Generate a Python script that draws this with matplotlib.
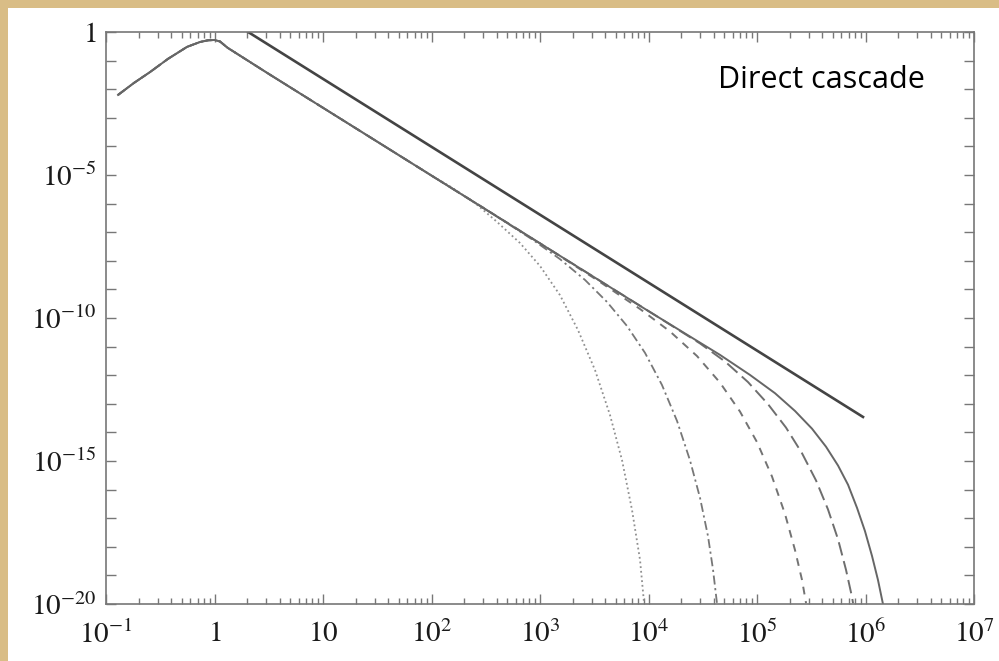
import numpy as np
import matplotlib
matplotlib.use("Agg")
import matplotlib.pyplot as plt
from matplotlib.patches import Rectangle
from matplotlib.ticker import FixedLocator, FixedFormatter, LogLocator, NullFormatter

# values, stored as log10(k) and log10(E)
# part shared by all five spectra (rise, peak at k=1, then inertial range)
shared_lk = [-0.889, -0.742, -0.594, -0.429, -0.253, -0.134, -0.06, 0.0, 0.05, 0.12, 0.5, 1.0, 1.5, 2.0]
shared_le = [-2.20, -1.78, -1.40, -0.94, -0.52, -0.35, -0.29, -0.28, -0.33, -0.55, -1.465, -2.65, -3.835, -5.02]

# tails after each spectrum leaves the inertial line
dotted_lk = [2.171, 2.401, 2.604, 2.816, 3.0, 3.184, 3.350, 3.507, 3.645, 3.756, 3.848, 3.922, 3.959]
dotted_le = [-5.40, -5.98, -6.64, -7.38, -8.18, -9.20, -10.42, -11.82, -13.39, -14.97, -16.71, -18.46, -19.97]

dashdot_lk = [2.5, 2.935, 3.184, 3.415, 3.618, 3.802, 3.968, 4.124, 4.263, 4.382, 4.475, 4.548, 4.594, 4.631]
dashdot_le = [-6.20, -7.27, -7.94, -8.67, -9.44, -10.28, -11.22, -12.34, -13.60, -14.97, -16.29, -17.62, -18.78, -19.97]

short_lk = [2.5, 3.0, 3.553, 3.922, 4.198, 4.447, 4.659, 4.843, 5.0, 5.138, 5.258, 5.350, 5.415, 5.452]
short_le = [-6.20, -7.39, -8.74, -9.685, -10.47, -11.33, -12.26, -13.27, -14.34, -15.54, -16.85, -18.11, -19.16, -19.97]

long_lk = [3.0, 3.5, 4.014, 4.475, 4.705, 4.917, 5.101, 5.267, 5.415, 5.544, 5.654, 5.747, 5.820, 5.876, 5.885]
long_le = [-7.39, -8.575, -9.79, -10.89, -11.52, -12.24, -13.01, -13.83, -14.73, -15.68, -16.69, -17.74, -18.80, -19.76, -19.97]

solid_lk = [3.0, 4.0, 4.659, 4.935, 5.166, 5.350, 5.507, 5.636, 5.747, 5.839, 5.922, 5.995, 6.060, 6.115, 6.161]
solid_le = [-7.39, -9.76, -11.29, -11.99, -12.63, -13.25, -13.87, -14.50, -15.16, -15.83, -16.64, -17.45, -18.32, -19.16, -20.0]

# reference power law (straight line)
ref_lk = [0.31, 5.977]
ref_le = [0.0, -13.46]

xtick_exp = [-1, 0, 1, 2, 3, 4, 5, 6, 7]
xtick_labels = ["$10^{-1}$", "$1$", "$10$", "$10^{2}$", "$10^{3}$", "$10^{4}$", "$10^{5}$", "$10^{6}$", "$10^{7}$"]
ytick_exp = [0, -5, -10, -15, -20]
ytick_labels = ["$1$", "$10^{-5}$", "$10^{-10}$", "$10^{-15}$", "$10^{-20}$"]

plt.rcParams["font.family"] = ["Liberation Serif", "DejaVu Serif"]
plt.rcParams["mathtext.fontset"] = "stix"


def curve(lk_a, le_a, lk_b, le_b):
    # shared part up to where the tail starts, then the tail
    lk = [v for v in lk_a if v < lk_b[0]] + list(lk_b)
    le = [e for v, e in zip(lk_a, le_a) if v < lk_b[0]] + list(le_b)
    return 10.0 ** np.array(lk), 10.0 ** np.array(le)


fig = plt.figure(figsize=(9.99, 6.61), dpi=100)
fig.patch.set_facecolor("#d9bd86")
fig.patches.append(Rectangle((8 / 999, 0), 1, 1 - 8 / 661, transform=fig.transFigure,
                             facecolor="white", edgecolor="none", zorder=-5))

ax = fig.add_axes([106 / 999, 1 - 604 / 661, (974 - 106) / 999, (604 - 32) / 661])
ax.set_zorder(2)
ax.set_xscale("log")
ax.set_yscale("log")
ax.set_xlim(1e-1, 1e7)
ax.set_ylim(1e-20, 1)

x, y = curve(shared_lk, shared_le, dotted_lk, dotted_le)
ax.plot(x, y, color="#909090", lw=1.3, ls=(0, (1, 1.6)))
x, y = curve(shared_lk, shared_le, dashdot_lk, dashdot_le)
ax.plot(x, y, color="#777777", lw=1.3, ls=(0, (5, 2, 1.2, 2)))
x, y = curve(shared_lk, shared_le, short_lk, short_le)
ax.plot(x, y, color="#737373", lw=1.4, ls=(0, (4, 3.5)))
x, y = curve(shared_lk, shared_le, long_lk, long_le)
ax.plot(x, y, color="#6e6e6e", lw=1.4, ls=(0, (7, 3)))
x, y = curve(shared_lk, shared_le, solid_lk, solid_le)
ax.plot(x, y, color="#666666", lw=1.4)
ax.plot(10.0 ** np.array(ref_lk), 10.0 ** np.array(ref_le), color="#444444", lw=1.9)

ax.xaxis.set_major_locator(FixedLocator([10.0 ** e for e in xtick_exp]))
ax.xaxis.set_major_formatter(FixedFormatter(xtick_labels))
ax.xaxis.set_minor_locator(LogLocator(base=10, subs=np.arange(2, 10), numticks=20))
ax.xaxis.set_minor_formatter(NullFormatter())
ax.yaxis.set_major_locator(FixedLocator([10.0 ** e for e in ytick_exp]))
ax.yaxis.set_major_formatter(FixedFormatter(ytick_labels))
ax.yaxis.set_minor_locator(FixedLocator([10.0 ** e for e in range(-20, 1)]))
ax.yaxis.set_minor_formatter(NullFormatter())

ax.tick_params(which="both", direction="in", top=True, right=True, colors="#777777",
               labelcolor="#1a1a1a", labelsize=21, width=1.0)
ax.tick_params(which="major", length=7)
ax.tick_params(axis="x", which="major", pad=12)
ax.tick_params(axis="y", which="major", pad=7)
ax.tick_params(which="minor", length=4)
ax.tick_params(axis="y", which="minor", length=7)
for s in ax.spines.values():
    s.set_color("#777777")
    s.set_linewidth(1.2)

fig.text(718 / 999, 1 - 80 / 661, "Direct cascade", fontsize=22, va="center", ha="left",
         family=["Open Sans", "DejaVu Sans"], color="black", zorder=5)

plt.savefig("out.png", dpi=100, facecolor=fig.get_facecolor())
